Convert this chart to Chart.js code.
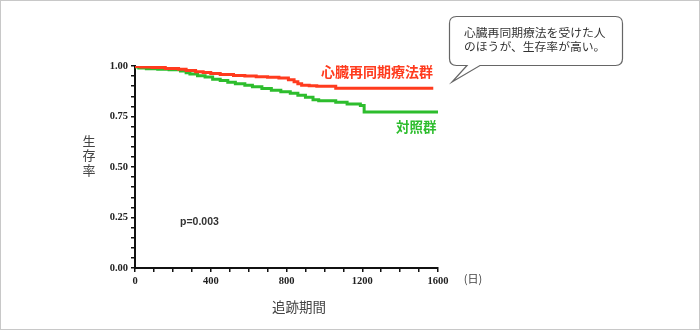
<!DOCTYPE html>
<html lang="ja">
<head>
<meta charset="utf-8">
<title>生存率</title>
<script src="https://cdn.jsdelivr.net/npm/chart.js@4.4.1/dist/chart.umd.min.js"></script>
<style>
  html, body { margin: 0; padding: 0; background: #fff; }
  #wrap { width: 700px; height: 330px; position: relative; }
</style>
</head>
<body>
<div id="wrap"><canvas id="grafico" width="700" height="330"></canvas></div>
<script>
// 心臓再同期療法群 (日数, 生存率)
const diasCrt = [0, 30, 90, 160, 230, 270, 320, 360, 400, 450, 520, 580, 640, 700, 760, 810, 840, 860, 880, 920, 960, 1060, 1200, 1575];
const survCrt = [1.0, 0.997, 0.995, 0.992, 0.988, 0.984, 0.978, 0.972, 0.968, 0.963, 0.958, 0.953, 0.95, 0.947, 0.944, 0.94, 0.932, 0.922, 0.912, 0.905, 0.902, 0.9, 0.89, 0.89];

// 対照群
const diasCtrl = [0, 20, 60, 120, 180, 240, 270, 290, 330, 370, 410, 450, 490, 530, 580, 620, 670, 720, 770, 820, 860, 900, 940, 970, 1060, 1120, 1190, 1210, 1355, 1600];
const survCtrl = [1.0, 0.995, 0.99, 0.987, 0.984, 0.981, 0.975, 0.966, 0.96, 0.952, 0.945, 0.935, 0.928, 0.92, 0.912, 0.905, 0.897, 0.888, 0.88, 0.872, 0.865, 0.855, 0.845, 0.833, 0.828, 0.82, 0.812, 0.805, 0.772, 0.772];

const ticksX = [0, 400, 800, 1200, 1600];
const ticksY = [0, 0.25, 0.5, 0.75, 1.0];

const rojo = '#ff3b1e';
const verde = '#2dbd2d';

function puntos(dias, surv) {
    return dias.map((d, i) => ({ x: d, y: surv[i] }));
}

// textos, globo y marco
const textos = {
    id: 'textos',
    afterDraw(chart) {
        const ctx = chart.ctx;
        ctx.save();
        const jp = '"Noto Sans CJK JP", sans-serif';

        ctx.textAlign = 'left';
        ctx.textBaseline = 'middle';
        ctx.font = 'bold 14px ' + jp;
        ctx.fillStyle = rojo;
        ctx.fillText('心臓再同期療法群', 321, 72);
        ctx.font = 'bold 13.5px ' + jp;
        ctx.fillStyle = verde;
        ctx.fillText('対照群', 396, 127);

        ctx.fillStyle = '#333';
        ctx.font = 'bold 10.5px "Liberation Sans", sans-serif';
        ctx.fillText('p=0.003', 180, 222);

        ctx.fillStyle = '#444';
        ctx.textAlign = 'center';
        ctx.font = '13px ' + jp;
        ['生', '存', '率'].forEach((c, i) => ctx.fillText(c, 89, 141 + i * 14.5));
        ctx.font = '13.5px ' + jp;
        ctx.fillText('追跡期間', 299, 307);
        ctx.font = '11px ' + jp;
        ctx.fillText('(日)', 473, 279);

        // 吹き出し
        const l = 449.5, t = 16.5, r = 622.5, b = 65.5, rad = 7;
        ctx.beginPath();
        ctx.moveTo(l + rad, t);
        ctx.lineTo(r - rad, t);
        ctx.quadraticCurveTo(r, t, r, t + rad);
        ctx.lineTo(r, b - rad);
        ctx.quadraticCurveTo(r, b, r - rad, b);
        ctx.lineTo(480, b);
        ctx.lineTo(452, 82);
        ctx.lineTo(467, b);
        ctx.lineTo(l + rad, b);
        ctx.quadraticCurveTo(l, b, l, b - rad);
        ctx.lineTo(l, t + rad);
        ctx.quadraticCurveTo(l, t, l + rad, t);
        ctx.closePath();
        ctx.fillStyle = '#fff';
        ctx.fill();
        ctx.strokeStyle = '#666';
        ctx.lineWidth = 1.2;
        ctx.stroke();

        ctx.fillStyle = '#333';
        ctx.textAlign = 'left';
        ctx.font = '11.8px ' + jp;
        ctx.fillText('心臓再同期療法を受けた人', 464, 33);
        ctx.fillText('のほうが、生存率が高い。', 464, 47);

        ctx.strokeStyle = '#c8c8c8';
        ctx.lineWidth = 1;
        ctx.strokeRect(0.5, 0.5, 699, 329);
        ctx.restore();
    }
};

const grafico = document.querySelector('#grafico');

new Chart(grafico, {
    type: 'line',
    data: {
        datasets: [
            {
                label: '心臓再同期療法群',
                data: puntos(diasCrt, survCrt),
                borderColor: rojo,
                borderWidth: 3,
                stepped: 'after',
                pointRadius: 0
            },
            {
                label: '対照群',
                data: puntos(diasCtrl, survCtrl),
                borderColor: verde,
                borderWidth: 3,
                stepped: 'after',
                pointRadius: 0
            }
        ]
    },
    options: {
        responsive: false,
        animation: false,
        layout: { padding: { left: 0, top: 66, right: 262, bottom: 0 } },
        plugins: { legend: { display: false }, tooltip: { enabled: false } },
        scales: {
            x: {
                type: 'linear',
                min: 0,
                max: 1600,
                afterFit: s => { s.height = 62; },
                afterBuildTicks: s => { s.ticks = []; for (let v = 0; v <= 1600; v += 100) s.ticks.push({ value: v }); },
                border: { color: '#111', width: 2 },
                grid: { drawOnChartArea: false, tickLength: 4, color: '#111', lineWidth: 1.5 },
                ticks: {
                    color: '#222',
                    padding: 3,
                    maxRotation: 0,
                    autoSkip: false,
                    font: { family: '"Liberation Serif", serif', weight: 'bold', size: 10.5 },
                    callback: v => ticksX.includes(v) ? String(v) : ''
                }
            },
            y: {
                min: 0,
                max: 1,
                afterFit: s => { s.width = 135; },
                afterBuildTicks: s => { s.ticks = []; for (let i = 0; i <= 20; i++) s.ticks.push({ value: i * 0.05 }); },
                border: { color: '#111', width: 2 },
                grid: { drawOnChartArea: false, tickLength: 4, color: '#111', lineWidth: 1.5 },
                ticks: {
                    color: '#222',
                    padding: 3,
                    autoSkip: false,
                    font: { family: '"Liberation Serif", serif', weight: 'bold', size: 10.5 },
                    callback: v => ticksY.some(t => Math.abs(t - v) < 1e-6) ? v.toFixed(2) : ''
                }
            }
        }
    },
    plugins: [textos]
});
</script>
</body>
</html>
